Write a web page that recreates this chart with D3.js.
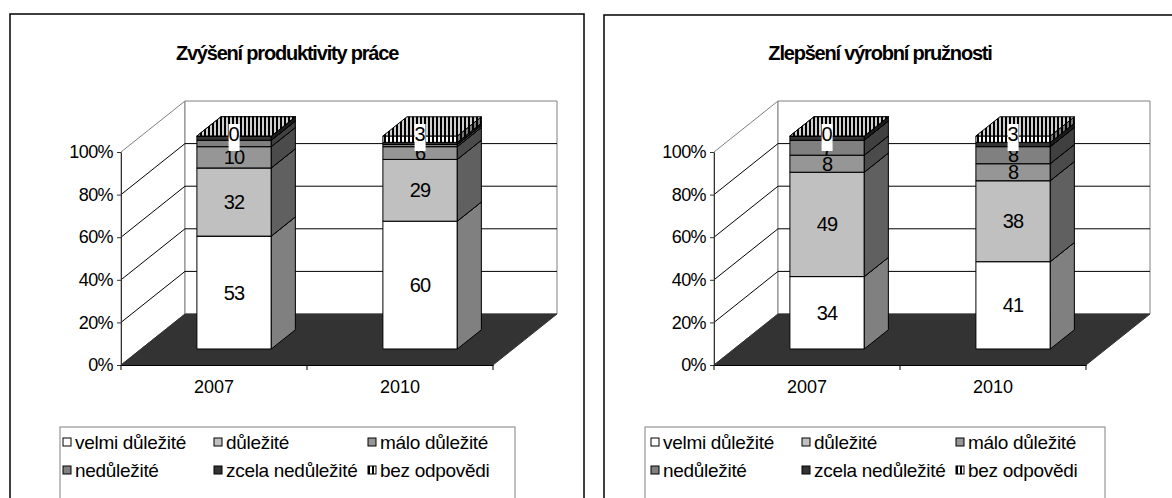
<!DOCTYPE html>
<html>
<head>
<meta charset="utf-8">
<script src="https://cdn.jsdelivr.net/npm/d3@7"></script>
<style>
  body { margin: 0; background: #fff; }
  svg { display: block; font-family: "Liberation Sans", Arial, sans-serif; }
</style>
</head>
<body>
<svg id="chart" width="1172" height="498"></svg>
<script>
// data
const categories = ["2007", "2010"]
const seriesNames = ["velmi důležité", "důležité", "málo důležité", "nedůležité", "zcela nedůležité", "bez odpovědi"]
const yTicks = [0, 20, 40, 60, 80, 100]
const titles = ["Zvýšení produktivity práce", "Zlepšení výrobní pružnosti"]

const productivity2007 = [53, 32, 10, 3, 2, 0]
const productivity2010 = [60, 29, 6, 1, 1, 3]
const flexibility2007 = [34, 49, 8, 7, 2, 0]
const flexibility2010 = [41, 38, 8, 8, 2, 3]

const frontColors = ["#ffffff", "#c0c0c0", "#969696", "#808080", "#333333", "url(#hatch)"]
const sideColors = ["#808080", "#606060", "#4b4b4b", "#404040", "#1a1a1a", "url(#hatchSide)"]

const svg = d3.select("#chart")

// patterns for "bez odpovědi"
const defs = svg.append("defs")
function stripes(id, light) {
  const p = defs.append("pattern").attr("id", id)
    .attr("width", 4).attr("height", 4)
    .attr("patternUnits", "userSpaceOnUse")
  p.append("rect").attr("width", 4).attr("height", 4).attr("fill", light)
  p.append("rect").attr("width", 2).attr("height", 4).attr("fill", "#000")
}
stripes("hatch", "#ffffff")
stripes("hatchTop", "#d0d0d0")
stripes("hatchSide", "#7a7a7a")

// panel frames
svg.append("rect").attr("x", 10).attr("y", 14).attr("width", 574).attr("height", 500)
  .attr("fill", "none").attr("stroke", "#000").attr("stroke-width", 1.5)
svg.append("rect").attr("x", 604).attr("y", 15).attr("width", 600).attr("height", 500)
  .attr("fill", "none").attr("stroke", "#000").attr("stroke-width", 1.5)

// 3d depth of the plot box
const DX = 64, DY = -51
const zFront = 0.314, zBack = 0.69

function drawChart(ox, title, values, legendBoxX, legendBoxW, legendItemsX) {
  const g = svg.append("g").attr("transform", `translate(${ox},0)`)

  const x = d3.scaleBand().domain(categories).range([121, 493])
    .paddingInner(0.6).paddingOuter(0.3)
  const y = d3.scaleLinear().domain([0, 100]).range([365, 152])
  const P = (px, v, z) => [px + z * DX, y(v) + z * DY]
  const poly = pts => pts.map(p => p.join(",")).join(" ")

  const x0 = x.range()[0], x1 = x.range()[1]

  // title
  g.append("text")
    .attr("x", 287).attr("y", 60)
    .attr("text-anchor", "middle")
    .attr("font-size", 20).attr("font-weight", "bold")
    .attr("letter-spacing", -1.2)
    .text(title)

  // side wall and back wall
  g.append("polygon")
    .attr("points", poly([P(x0, 100, 0), P(x0, 100, 1), P(x0, 0, 1), P(x0, 0, 0)]))
    .attr("fill", "#fff").attr("stroke", "#808080")
  g.append("polygon")
    .attr("points", poly([P(x0, 100, 1), P(x1, 100, 1), P(x1, 0, 1), P(x0, 0, 1)]))
    .attr("fill", "#fff").attr("stroke", "#808080")

  // gridlines
  g.selectAll(".grid")
    .data(yTicks.filter(d => d > 0 && d < 100))
    .join("polyline")
    .attr("class", "grid")
    .attr("points", d => poly([P(x0, d, 0), P(x0, d, 1), P(x1, d, 1)]))
    .attr("fill", "none").attr("stroke", "#000").attr("stroke-width", 1)

  // floor
  g.append("polygon")
    .attr("points", poly([P(x0, 0, 0), P(x1, 0, 0), P(x1, 0, 1), P(x0, 0, 1)]))
    .attr("fill", "#333333").attr("stroke", "#333333")

  // value axis
  const yAxis = g.append("g")
    .attr("transform", `translate(${x0},0)`)
    .call(d3.axisLeft(y).tickValues(yTicks).tickFormat(d => d + "%").tickSize(4).tickSizeOuter(0))
  yAxis.select(".domain").attr("stroke", "#333")
  yAxis.selectAll(".tick line").attr("stroke", "#333")
  yAxis.selectAll(".tick text")
    .attr("font-family", "Liberation Sans, Arial, sans-serif")
    .attr("font-size", 18).attr("fill", "#000")
    .attr("x", -8).attr("letter-spacing", -0.6)

  // category axis
  const xAxis = g.append("g")
    .attr("transform", `translate(0,${y(0)})`)
    .call(d3.axisBottom(x).tickSize(0).tickSizeOuter(0))
  xAxis.select(".domain").attr("stroke", "#000")
  xAxis.selectAll(".tick text")
    .attr("font-family", "Liberation Sans, Arial, sans-serif")
    .attr("font-size", 18).attr("fill", "#000")
    .attr("dy", "0.71em").attr("y", 15)
  const bounds = categories.map(c => x(c) - x.step() * x.paddingInner() / 2).concat([x1])
  g.selectAll(".xtick")
    .data(bounds)
    .join("line")
    .attr("class", "xtick")
    .attr("x1", d => d).attr("x2", d => d)
    .attr("y1", y(0)).attr("y2", y(0) + 5)
    .attr("stroke", "#000")

  // stacked bars
  const rows = categories.map((c, i) => {
    const r = { cat: c }
    seriesNames.forEach((s, j) => { r[s] = values[i][j] })
    return r
  })
  const layers = d3.stack().keys(seriesNames)(rows)

  categories.forEach((c, ci) => {
    const bx0 = x(c), bx1 = x(c) + x.bandwidth()
    const bar = g.append("g").attr("class", "bar")
    layers.forEach((layer, li) => {
      const [v0, v1] = layer[ci]
      const last = li === layers.length - 1
      bar.append("polygon")
        .attr("points", poly([P(bx0, v1, zFront), P(bx1, v1, zFront), P(bx1, v0, zFront), P(bx0, v0, zFront)]))
        .attr("fill", frontColors[li]).attr("stroke", "#000")
      bar.append("polygon")
        .attr("points", poly([P(bx1, v1, zFront), P(bx1, v1, zBack), P(bx1, v0, zBack), P(bx1, v0, zFront)]))
        .attr("fill", sideColors[li]).attr("stroke", "#000")
      bar.append("polygon")
        .attr("points", poly([P(bx0, v1, zFront), P(bx1, v1, zFront), P(bx1, v1, zBack), P(bx0, v1, zBack)]))
        .attr("fill", last ? "url(#hatchTop)" : sideColors[li]).attr("stroke", "#000")
    })

    // data labels (those lying fully under the top label's box are hidden, as in the original)
    const cx = (bx0 + bx1) / 2 + zFront * DX
    const top = y(100) + zFront * DY
    layers.forEach((layer, li) => {
      const [v0, v1] = layer[ci]
      const val = values[ci][li]
      const last = li === layers.length - 1
      if (last) return
      const cy = (y(v0) + y(v1)) / 2 + zFront * DY
      if (val === 0 || cy - top < 10) return
      bar.append("text")
        .attr("x", cx).attr("y", cy).attr("dy", "0.35em")
        .attr("text-anchor", "middle").attr("font-size", 20)
        .attr("letter-spacing", -0.8)
        .text(val)
    })
    const lastVal = values[ci][seriesNames.length - 1]
    bar.append("rect")
      .attr("x", cx - 5.5).attr("y", top - 12)
      .attr("width", 11).attr("height", 27)
      .attr("fill", "#fff")
    bar.append("text")
      .attr("x", cx).attr("y", top - 2).attr("dy", "0.35em")
      .attr("text-anchor", "middle").attr("font-size", 20)
      .text(lastVal)
  })

  // legend
  g.append("rect")
    .attr("x", legendBoxX).attr("y", 427)
    .attr("width", legendBoxW).attr("height", 90)
    .attr("fill", "#fff").attr("stroke", "#808080")
  const colX = [3, 154, 308]
  const rowY = [442, 470]
  const legendFills = ["#ffffff", "#c0c0c0", "#969696", "#808080", "#333333", "url(#hatch)"]
  const items = g.selectAll(".legend-item")
    .data(seriesNames)
    .join("g")
    .attr("class", "legend-item")
    .attr("transform", (d, i) => `translate(${legendItemsX + colX[i % 3]},${rowY[Math.floor(i / 3)]})`)
  items.append("rect")
    .attr("x", 0).attr("y", -4).attr("width", 8).attr("height", 8)
    .attr("fill", (d, i) => legendFills[i]).attr("stroke", "#000")
  items.append("text")
    .attr("x", 12).attr("y", 0).attr("dy", "0.35em")
    .attr("font-size", 19).attr("letter-spacing", -0.3)
    .text(d => d)
}

drawChart(0, titles[0], [productivity2007, productivity2010], 60, 455, 60)
drawChart(593, titles[1], [flexibility2007, flexibility2010], 52, 460, 55)
</script>
</body>
</html>
